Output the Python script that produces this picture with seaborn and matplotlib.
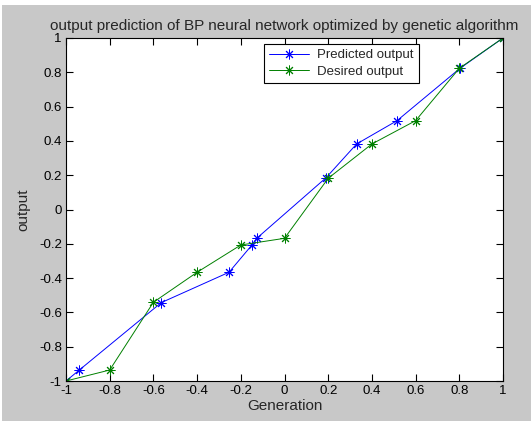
import matplotlib
matplotlib.use("Agg")
from matplotlib import pyplot as plt
from matplotlib.patches import Rectangle
import pandas as pd
import seaborn as sns

sns.set_style("ticks")
plt.rcParams['font.family'] = ['Liberation Sans', 'DejaVu Sans']

# values
pred_x = [-1, -0.939, -0.564, -0.254, -0.149, -0.127, 0.19, 0.33, 0.515, 0.803, 1]
pred_y = [-1, -0.936, -0.543, -0.366, -0.207, -0.168, 0.185, 0.382, 0.518, 0.823, 1]
desired_x = [-1, -0.8, -0.6, -0.4, -0.2, 0, 0.2, 0.4, 0.6, 0.8, 1]
desired_y = [-1, -0.936, -0.541, -0.366, -0.207, -0.168, 0.182, 0.382, 0.518, 0.823, 1]
tick_vals = [-1, -0.8, -0.6, -0.4, -0.2, 0, 0.2, 0.4, 0.6, 0.8, 1]
tick_labels = ["-1", "-0.8", "-0.6", "-0.4", "-0.2", "0", "0.2", "0.4", "0.6", "0.8", "1"]

pred = pd.DataFrame({"x": pred_x, "y": pred_y})
desired = pd.DataFrame({"x": desired_x, "y": desired_y})

fig = plt.figure(figsize=(5.31, 4.21), dpi=100)
fig.patch.set_facecolor("#c8c8c8")
# thin white border at top and left like the screenshot
fig.patches.append(Rectangle((0, 1 - 5 / 421), 1, 5 / 421, transform=fig.transFigure,
                             facecolor="white", edgecolor="none", zorder=-1))
fig.patches.append(Rectangle((0, 0), 2 / 531, 1, transform=fig.transFigure,
                             facecolor="white", edgecolor="none", zorder=-1))
ax = fig.add_axes([66 / 531, 1 - 381 / 421, 437 / 531, 343 / 421])
ax.set_facecolor("white")

star = (8, 2, 0)
sns.lineplot(data=pred, x="x", y="y", ax=ax, sort=False, color="blue",
             marker=star, markersize=7, markeredgecolor="blue", markeredgewidth=0.7,
             linewidth=0.7, label="Predicted output")
sns.lineplot(data=desired, x="x", y="y", ax=ax, sort=False, color="green",
             marker=star, markersize=7, markeredgecolor="green", markeredgewidth=0.7,
             linewidth=0.7, label="Desired output")

ax.set_xlim(-1, 1)
ax.set_ylim(-1, 1)
ax.set_xticks(tick_vals)
ax.set_xticklabels(tick_labels)
ax.set_yticks(tick_vals)
ax.set_yticklabels(tick_labels)
ax.tick_params(direction="in", length=5, width=0.8, top=True, right=True,
               labelsize=9.5, colors="black", pad=3)
for s in ax.spines.values():
    s.set_visible(True)
    s.set_color("black")
    s.set_linewidth(0.8)

ax.set_title("output prediction of BP neural network optimized by genetic algorithm",
             fontsize=11, pad=6)
ax.set_xlabel("Generation", fontsize=11, labelpad=1)
ax.set_ylabel("output", fontsize=11, labelpad=6)

leg = ax.legend(loc="upper left", bbox_to_anchor=(0.453, 0.983), borderaxespad=0,
                fontsize=9.5, frameon=True, fancybox=False, edgecolor="black",
                framealpha=1, handlelength=3.0, borderpad=0.4, labelspacing=0.3,
                handletextpad=0.6)
leg.get_frame().set_linewidth(0.8)

plt.savefig("out.png", dpi=100, facecolor=fig.get_facecolor())
